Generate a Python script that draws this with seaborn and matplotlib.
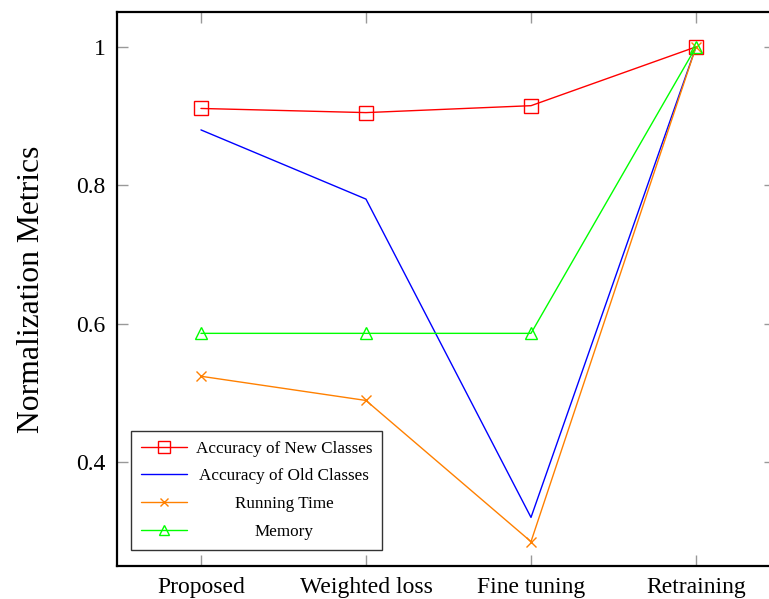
import matplotlib
matplotlib.use("Agg")
import matplotlib.pyplot as plt
import seaborn as sns
import pandas as pd
import numpy as np

methods = ["Proposed", "Weighted loss", "Fine tuning", "Retraining"]
acc_new = [0.911, 0.905, 0.915, 1.0]
acc_old = [0.880, 0.780, 0.320, 1.0]
run_time = [0.524, 0.489, 0.285, 1.0]
memory = [0.586, 0.586, 0.586, 1.0]
series_names = ["Accuracy of New Classes", "Accuracy of Old Classes", "Running Time", "Memory"]
yticks = [0.4, 0.6, 0.8, 1.0]
ytick_labels = ["0.4", "0.6", "0.8", "1"]

sns.set_theme(style="white")
plt.rcParams["font.family"] = ["Liberation Serif", "DejaVu Serif"]
plt.rcParams["text.color"] = "black"
plt.rcParams["xtick.labelcolor"] = "black"
plt.rcParams["ytick.labelcolor"] = "black"
plt.rcParams["axes.labelcolor"] = "black"

fig = plt.figure(figsize=(7.69, 5.99), dpi=100)
ax = fig.add_axes([0.1521, 0.0551, 0.856, 0.925])

pos = np.arange(len(methods))
styles = [
    dict(color="#ff0000", marker="s", markersize=10),
    dict(color="#0000ff", marker=None, markersize=0),
    dict(color="#ff8000", marker="x", markersize=7),
    dict(color="#00ff00", marker="^", markersize=9),
]
for name, vals, st in zip(series_names, [acc_new, acc_old, run_time, memory], styles):
    df = pd.DataFrame({"x": pos, "y": vals})
    kw = dict(color=st["color"], linewidth=1.0, label=name)
    if st["marker"]:
        kw.update(marker=st["marker"], markersize=st["markersize"],
                  markerfacecolor="none", markeredgecolor=st["color"], markeredgewidth=1.0)
    sns.lineplot(data=df, x="x", y="y", ax=ax, **kw)

ax.set_xlim(-0.509, 3.48)
ax.set_ylim(0.2498, 1.0505)
ax.set_xticks(pos)
ax.set_xticklabels(methods, fontsize=17, color="black")
ax.set_yticks(yticks)
ax.set_yticklabels(ytick_labels, fontsize=17, color="black")
ax.set_xlabel("")
ax.set_ylabel("Normalization Metrics", fontsize=22.8, labelpad=22, color="black")
ax.tick_params(axis="both", which="both", direction="in", length=8, width=1.0,
               color="#999999", top=True, right=True, bottom=True, left=True, pad=8)
for sp in ax.spines.values():
    sp.set_color("black")
    sp.set_linewidth(1.6)

leg = ax.legend(loc="lower left", bbox_to_anchor=(0.021, 0.029), borderaxespad=0,
                fontsize=12.3, frameon=True, fancybox=False, framealpha=1,
                edgecolor="#333333", handlelength=2.7, labelspacing=0.68,
                borderpad=0.6, handletextpad=0.5, markerscale=0.85)
leg.get_frame().set_linewidth(1.0)

fig.canvas.draw()
renderer = fig.canvas.get_renderer()
texts = leg.get_texts()
for t in texts:
    t.set_color("black")
widths = [t.get_window_extent(renderer).width for t in texts]
maxw = max(widths)
for t, w in zip(texts, widths):
    t.set_position(((maxw - w) / 2.0, 0))

fig.savefig("out.png", dpi=100)
